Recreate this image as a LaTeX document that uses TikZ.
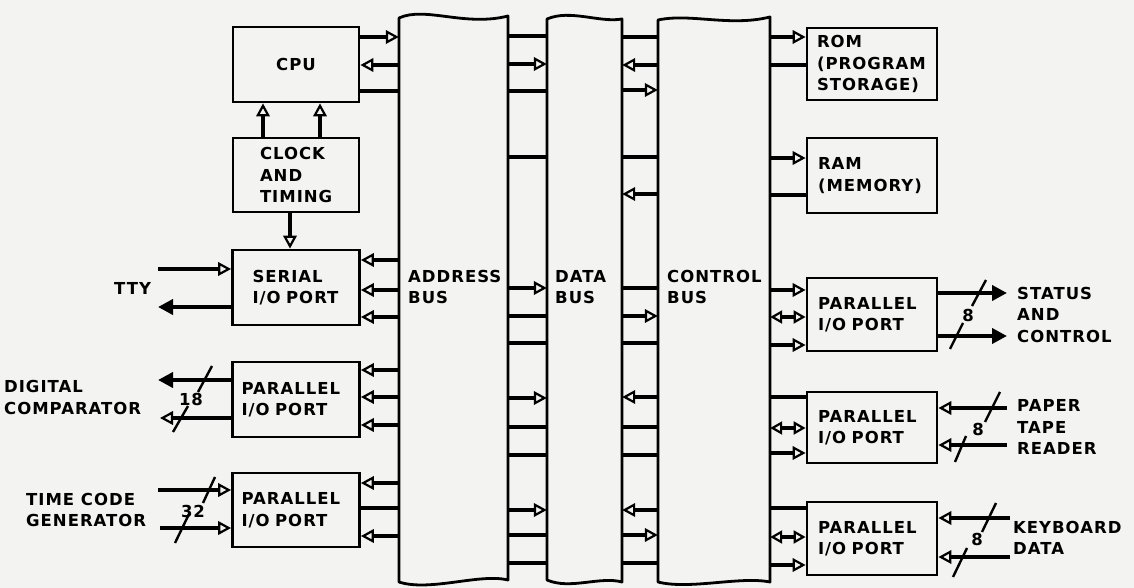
\documentclass[tikz,border=0pt]{standalone}
\usepackage{fontspec}
\newfontfamily\lab[LetterSpace=6]{DejaVu Sans Bold}
\usetikzlibrary{arrows.meta}
\newcommand\hlink[4]{\draw[conn,#4] (#1 |- 0,#3) -- (#2 |- 0,#3);}
\newcommand\vlink[4]{\draw[conn,#4] (#1 -| #3,0) -- (#2 -| #3,0);}
\definecolor{paper}{RGB}{243,243,241}
\begin{document}
\begin{tikzpicture}[x=1pt,y=-1pt,
  lw/.style={line width=2.8pt,line join=round},
  box/.style={draw, line width=2.8pt, inner ysep=0pt, align=left, font=\lab\fontsize{16.5}{21.5}\selectfont},
  lbl/.style={inner sep=0pt, align=left, font=\lab\fontsize{16.5}{21.5}\selectfont},
  bus/.style={draw=none, minimum width=#1, minimum height=564pt, inner sep=0pt},
  conn/.style={line width=3.4pt},
  ra/.style={-{Triangle[open,length=13pt,width=13.5pt,line width=2.2pt]}},
  la/.style={{Triangle[open,length=13pt,width=13.5pt,line width=2.2pt]}-},
  ba/.style={{Triangle[open,length=12pt,width=13pt,line width=2.2pt]}-{Triangle[open,length=12pt,width=13pt,line width=2.2pt]}},
  fa/.style={-{Triangle[length=15pt,width=15pt]}},
  ext/.style={line width=3.8pt},
  slash/.style={line width=2.4pt},
]
\fill[paper] (0,0) rectangle (1134,588);
\useasboundingbox (0,0) rectangle (1134,588);

% ---------- buses ----------
\node[bus=109pt] (abus) at (453.5,300) {};
\node[bus=75pt]  (dbus) at (584.5,300) {};
\node[bus=112pt] (cbus) at (714,300) {};
\draw[lw] (399,582) -- (399,18) .. controls (425,6) and (465,27) .. (508,16) -- (508,580) .. controls (480,573) and (430,592) .. cycle;
\draw[lw] (547,580) -- (547,19) .. controls (570,9) and (600,23) .. (622,19) -- (622,582) .. controls (600,576) and (570,590) .. cycle;
\draw[lw] (658,582) -- (658,20) .. controls (690,13) and (730,27) .. (770,17) -- (770,582) .. controls (740,576) and (690,590) .. cycle;
\node[lbl, anchor=west] (abl) at (408,287) {ADDRESS\\BUS};
\node[lbl, anchor=west] (dbl) at (555,287) {DATA\\BUS};
\node[lbl, anchor=west] (cbl) at (667,287) {CONTROL\\BUS};

% ---------- left boxes ----------
\node[box, minimum height=75pt, text width=106pt, inner xsep=10pt, align=center] (cpu) at (296,64.5) {CPU};
\node[box, minimum height=74pt, text width=72pt, inner xsep=27pt] (clk) at (296,175) {CLOCK\\AND\\TIMING};
\node[box, minimum height=75pt, text width=87pt, inner xsep=20pt] (ser) at (296,287.5) {SERIAL\\I/O PORT};
\node[box, minimum height=75pt, text width=109pt, inner xsep=9pt] (pl1) at (296,399.5) {PARALLEL\\I/O PORT};
\node[box, minimum height=74pt, text width=109pt, inner xsep=9pt] (pl2) at (296,510) {PARALLEL\\I/O PORT};

% ---------- right boxes ----------
\node[box, minimum height=72pt, text width=110pt, inner xsep=10pt] (rom) at (872,64) {ROM\\(PROGRAM\\STORAGE)};
\node[box, minimum height=75pt, text width=108pt, inner xsep=11pt] (ram) at (872,175.5) {RAM\\(MEMORY)};
\node[box, minimum height=73pt, text width=108pt, inner xsep=11pt] (pr1) at (872,314.5) {PARALLEL\\I/O PORT};
\node[box, minimum height=71pt, text width=108pt, inner xsep=11pt] (pr2) at (872,427.5) {PARALLEL\\I/O PORT};
\node[box, minimum height=73pt, text width=108pt, inner xsep=11pt] (pr3) at (872,538.5) {PARALLEL\\I/O PORT};

% ---------- vertical links ----------
\vlink{clk.north}{cpu.south}{263}{ra}
\vlink{clk.north}{cpu.south}{320}{ra}
\vlink{clk.south}{ser.north}{290}{ra}

% ---------- left boxes to address bus ----------
\hlink{cpu.east}{abus.west}{37}{ra}
\hlink{cpu.east}{abus.west}{65}{la}
\hlink{cpu.east}{abus.west}{91}{}
\hlink{ser.east}{abus.west}{260}{la}
\hlink{ser.east}{abus.west}{290}{la}
\hlink{ser.east}{abus.west}{317}{la}
\hlink{pl1.east}{abus.west}{370}{la}
\hlink{pl1.east}{abus.west}{397}{la}
\hlink{pl1.east}{abus.west}{425}{la}
\hlink{pl2.east}{abus.west}{483}{la}
\hlink{pl2.east}{abus.west}{508}{}
\hlink{pl2.east}{abus.west}{536}{la}

% ---------- address bus to data bus ----------
\hlink{abus.east}{dbus.west}{36}{}
\hlink{abus.east}{dbus.west}{64}{ra}
\hlink{abus.east}{dbus.west}{91}{}
\hlink{abus.east}{dbus.west}{157}{}
\hlink{abus.east}{dbus.west}{288}{ra}
\hlink{abus.east}{dbus.west}{316}{}
\hlink{abus.east}{dbus.west}{343}{}
\hlink{abus.east}{dbus.west}{398}{ra}
\hlink{abus.east}{dbus.west}{427}{}
\hlink{abus.east}{dbus.west}{455}{}
\hlink{abus.east}{dbus.west}{510}{ra}
\hlink{abus.east}{dbus.west}{535}{}
\hlink{abus.east}{dbus.west}{563}{}

% ---------- data bus to control bus ----------
\hlink{dbus.east}{cbus.west}{37}{}
\hlink{dbus.east}{cbus.west}{65}{la}
\hlink{dbus.east}{cbus.west}{90}{ra}
\hlink{dbus.east}{cbus.west}{157}{}
\hlink{dbus.east}{cbus.west}{194}{la}
\hlink{dbus.east}{cbus.west}{288}{}
\hlink{dbus.east}{cbus.west}{316}{ra}
\hlink{dbus.east}{cbus.west}{343}{}
\hlink{dbus.east}{cbus.west}{397}{la}
\hlink{dbus.east}{cbus.west}{427}{}
\hlink{dbus.east}{cbus.west}{455}{}
\hlink{dbus.east}{cbus.west}{510}{la}
\hlink{dbus.east}{cbus.west}{535}{ra}
\hlink{dbus.east}{cbus.west}{563}{}

% ---------- control bus to right boxes ----------
\hlink{cbus.east}{rom.west}{37}{ra}
\hlink{cbus.east}{rom.west}{65}{}
\hlink{cbus.east}{ram.west}{158}{ra}
\hlink{cbus.east}{ram.west}{195}{}
\hlink{cbus.east}{pr1.west}{290}{ra}
\hlink{cbus.east}{pr1.west}{317}{ba}
\hlink{cbus.east}{pr1.west}{345}{ra}
\hlink{cbus.east}{pr2.west}{397}{}
\hlink{cbus.east}{pr2.west}{428}{ba}
\hlink{cbus.east}{pr2.west}{453}{ra}
\hlink{cbus.east}{pr3.west}{508}{}
\hlink{cbus.east}{pr3.west}{537}{ba}
\hlink{cbus.east}{pr3.west}{565}{ra}

% ---------- external signals ----------
\coordinate (tty1) at (158,269);
\coordinate (tty2) at (158,307);
\coordinate (dc1) at (158,380);
\coordinate (dc2) at (160,418);
\coordinate (tc1) at (158,490);
\coordinate (tc2) at (160,528);
\coordinate (sc1) at (1007,293);
\coordinate (sc2) at (1007,336);
\coordinate (pt1) at (1007,408);
\coordinate (pt2) at (1007,445);
\coordinate (kb1) at (1010,518);
\coordinate (kb2) at (1010,557);

\draw[ext,ra] (tty1) -- (ser.west |- tty1);
\draw[ext,fa] (ser.west |- tty2) -- (tty2);
\draw[ext,fa] (pl1.west |- dc1) -- (dc1);
\draw[ext,ra] (pl1.west |- dc2) -- (dc2);
\draw[ext,ra] (tc1) -- (pl2.west |- tc1);
\draw[ext,ra] (tc2) -- (pl2.west |- tc2);
\draw[ext,fa] (pr1.east |- sc1) -- (sc1);
\draw[ext,fa] (pr1.east |- sc2) -- (sc2);
\draw[ext,ra] (pt1) -- (pr2.east |- pt1);
\draw[ext,ra] (pt2) -- (pr2.east |- pt2);
\draw[ext,ra] (kb1) -- (pr3.east |- kb1);
\draw[ext,ra] (kb2) -- (pr3.east |- kb2);

% bus-width slashes
\draw[slash] (198,392) -- (212,366);
\draw[slash] (173,432) -- (188,406);
\draw[slash] (203,503) -- (215,477);
\draw[slash] (175,543) -- (189,514);
\draw[slash] (972,306) -- (986,280);
\draw[slash] (950,349) -- (963,323);
\draw[slash] (985,422) -- (1000,392);
\draw[slash] (955,462) -- (966,436);
\draw[slash] (982,532) -- (996,503);
\draw[slash] (953,577) -- (967,548);

\node[lbl] (n18) at (191,399) {18};
\node[lbl] (n32) at (193,511) {32};
\node[lbl] (n8a) at (968,315) {8};
\node[lbl] (n8b) at (978,429) {8};
\node[lbl] (n8c) at (977,539) {8};

\node[lbl, anchor=west] (ttyl) at (114,288) {TTY};
\node[lbl, anchor=west] (dcl) at (4,397.5) {DIGITAL\\COMPARATOR};
\node[lbl, anchor=west] (tcl) at (26,510) {TIME CODE\\GENERATOR};
\node[lbl, anchor=west] (scl) at (1017,314.5) {STATUS\\AND\\CONTROL};
\node[lbl, anchor=west] (ptl) at (1017,427) {PAPER\\TAPE\\READER};
\node[lbl, anchor=west] (kbl) at (1013,538) {KEYBOARD\\DATA};
\end{tikzpicture}
\end{document}
